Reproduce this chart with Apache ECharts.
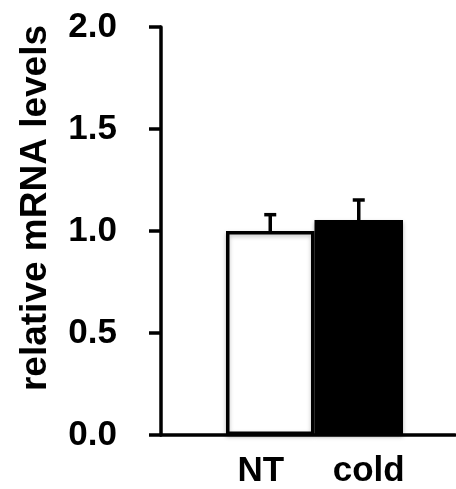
<!DOCTYPE html>
<html lang="en">
<head>
    <meta charset="UTF-8">
    <title>relative mRNA levels</title>
    <script src="https://cdn.jsdelivr.net/npm/echarts@6/dist/echarts.min.js"></script>
    <style>
        html, body {
            margin: 0;
            padding: 0;
            background: #fff;
        }
        #chart {
            width: 456px;
            height: 489px;
        }
    </style>
</head>
<body>
<div id="chart"></div>
<script>
    // data
    let groups = ['NT', 'cold'];
    let means = [1.0, 1.054];
    let sems = [0.08, 0.098];
    let fills = ['#ffffff', '#000000'];
    let yTicks = [0, 0.5, 1.0, 1.5, 2.0];

    let font = 'Liberation Sans, Arial, Helvetica, sans-serif';

    let chart = echarts.init(document.getElementById('chart'));
    let option = {
        backgroundColor: '#fff',
        animation: false,
        grid: [
            {left: 161, right: 1, top: 27, bottom: 54},
            {left: 226, right: 53, top: 27, bottom: 54}
        ],
        xAxis: [
            {
                gridIndex: 0,
                type: 'category',
                data: [''],
                axisLine: {lineStyle: {color: '#000', width: 3.5}},
                axisTick: {show: false},
                axisLabel: {show: false}
            },
            {
                gridIndex: 1,
                type: 'category',
                data: groups.map(function (g, i) {
                    return {
                        value: g,
                        textStyle: {padding: i === 0 ? [0, 19, 0, 0] : [0, 0, 0, 20]}
                    };
                }),
                axisLine: {show: false},
                axisTick: {show: false},
                axisLabel: {
                    interval: 0,
                    hideOverlap: false,
                    margin: 19,
                    color: '#000',
                    fontFamily: font,
                    fontWeight: 'bold',
                    fontSize: 35
                }
            }
        ],
        yAxis: [
            {
                gridIndex: 0,
                type: 'value',
                min: yTicks[0],
                max: yTicks[yTicks.length - 1],
                interval: 0.5,
                name: 'relative mRNA levels',
                nameLocation: 'middle',
                nameRotate: 90,
                nameGap: 107,
                nameTextStyle: {
                    color: '#000',
                    fontFamily: font,
                    fontWeight: 'bold',
                    fontSize: 37,
                    padding: [0, 0, 0, 46]
                },
                splitLine: {show: false},
                axisLine: {show: true, lineStyle: {color: '#000', width: 3.5}},
                axisTick: {show: true, inside: false, length: 12, lineStyle: {color: '#000', width: 3.5}},
                axisLabel: {
                    margin: 44,
                    color: '#000',
                    fontFamily: font,
                    fontWeight: 'bold',
                    fontSize: 35,
                    formatter: function (v) {
                        return v.toFixed(1);
                    }
                }
            },
            {
                gridIndex: 1,
                type: 'value',
                min: yTicks[0],
                max: yTicks[yTicks.length - 1],
                show: false
            }
        ],
        series: [
            {
                type: 'bar',
                xAxisIndex: 1,
                yAxisIndex: 1,
                barCategoryGap: '0%',
                z: 2,
                data: means.map(function (m, i) {
                    return {
                        value: m,
                        itemStyle: {
                            color: fills[i],
                            borderColor: '#000',
                            borderWidth: 3.5,
                            shadowColor: 'rgba(0,0,0,0.25)',
                            shadowBlur: 4,
                            shadowOffsetY: 2
                        }
                    };
                })
            },
            {
                type: 'custom',
                xAxisIndex: 1,
                yAxisIndex: 1,
                z: 3,
                data: means.map(function (m, i) {
                    return [i, m, m + sems[i]];
                }),
                renderItem: function (params, api) {
                    let base = api.coord([api.value(0), api.value(1)]);
                    let top = api.coord([api.value(0), api.value(2)]);
                    let half = 6;
                    let style = {stroke: '#000', lineWidth: 3.5};
                    return {
                        type: 'group',
                        children: [
                            {type: 'line', shape: {x1: base[0], y1: base[1], x2: top[0], y2: top[1]}, style: style},
                            {type: 'line', shape: {x1: top[0] - half, y1: top[1], x2: top[0] + half, y2: top[1]}, style: style}
                        ]
                    };
                }
            }
        ]
    };
    chart.setOption(option);
</script>
</body>
</html>
